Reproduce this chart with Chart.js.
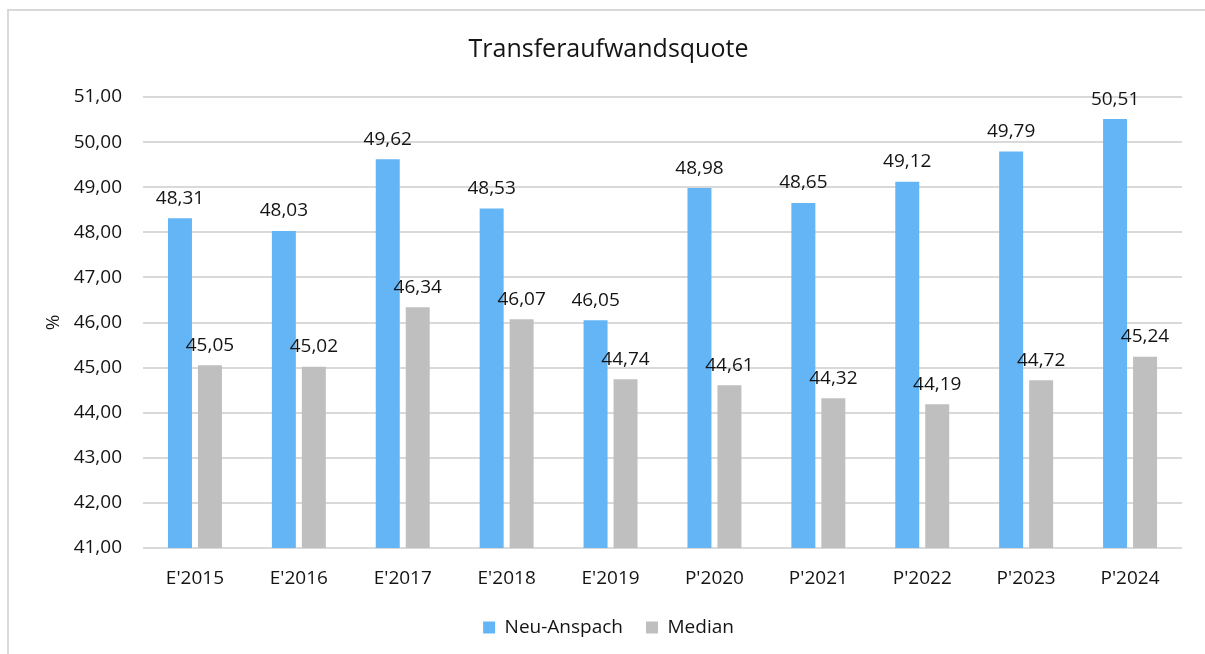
<!DOCTYPE html>
<html>
<head>
<meta charset="utf-8">
<script src="https://cdn.jsdelivr.net/npm/chart.js@4"></script>
<style>
  html, body { margin: 0; padding: 0; background: #fff; }
  body { width: 1205px; height: 654px; position: relative; overflow: hidden; }
  #frame { position: absolute; left: 7px; top: 9px; width: 1300px; height: 800px; border: 2px solid #D9D9D9; box-sizing: border-box; }
  #chart { position: absolute; left: 0; top: 0; }
</style>
</head>
<body>
<div id="frame"></div>
<canvas id="chart" width="1205" height="654"></canvas>
<script>
// Werte aus dem Diagramm
const categories = ["E'2015", "E'2016", "E'2017", "E'2018", "E'2019", "P'2020", "P'2021", "P'2022", "P'2023", "P'2024"];
const neuAnspach = [48.31, 48.03, 49.62, 48.53, 46.05, 48.98, 48.65, 49.12, 49.79, 50.51];
const median = [45.05, 45.02, 46.34, 46.07, 44.74, 44.61, 44.32, 44.19, 44.72, 45.24];
const yMin = 41, yMax = 51, yStep = 1;

const FONT = "'Open Sans', 'Noto Sans', sans-serif";
const TEXT = '#141414';

function fmt(v) {
    return v.toFixed(2).replace('.', ',');
}

// Datenbeschriftungen über den Balken
const valueLabels = {
    id: 'valueLabels',
    afterDatasetsDraw(chart) {
        const ctx = chart.ctx;
        ctx.save();
        ctx.font = '19px ' + FONT;
        ctx.fillStyle = TEXT;
        ctx.textAlign = 'center';
        ctx.textBaseline = 'middle';
        chart.data.datasets.forEach((ds, i) => {
            chart.getDatasetMeta(i).data.forEach((bar, j) => {
                ctx.fillText(fmt(ds.data[j]), bar.x, bar.y - 20);
            });
        });
        ctx.restore();
    }
};

const ctx = document.getElementById('chart').getContext('2d');
new Chart(ctx, {
    type: 'bar',
    data: {
        labels: categories,
        datasets: [
            {
                label: 'Neu-Anspach',
                data: neuAnspach,
                backgroundColor: '#64B5F6',
                categoryPercentage: 0.577,
                barPercentage: 0.8
            },
            {
                label: 'Median',
                data: median,
                backgroundColor: '#BFBFBF',
                categoryPercentage: 0.577,
                barPercentage: 0.8
            }
        ]
    },
    options: {
        responsive: false,
        animation: false,
        layout: {
            padding: { left: 35, right: 23, top: 0, bottom: 7 }
        },
        plugins: {
            title: {
                display: true,
                text: 'Transferaufwandsquote',
                color: TEXT,
                font: { family: FONT, size: 25, weight: 'normal' },
                padding: { top: 35, bottom: 32 }
            },
            legend: {
                position: 'bottom',
                labels: {
                    color: TEXT,
                    font: { family: FONT, size: 19 },
                    boxWidth: 12,
                    boxHeight: 12,
                    padding: 23
                }
            },
            tooltip: { enabled: false }
        },
        scales: {
            x: {
                grid: { display: false },
                border: { display: false },
                ticks: {
                    color: TEXT,
                    font: { family: FONT, size: 19 },
                    padding: 11,
                    maxRotation: 0
                },
                afterFit: (scale) => { scale.height = 47; }
            },
            y: {
                min: yMin,
                max: yMax,
                grid: { color: '#D9D9D9', lineWidth: 2, drawTicks: false },
                border: { display: false },
                ticks: {
                    stepSize: yStep,
                    color: TEXT,
                    font: { family: FONT, size: 19 },
                    padding: 21,
                    callback: (v) => fmt(v)
                },
                title: {
                    display: true,
                    text: '%',
                    color: TEXT,
                    font: { family: FONT, size: 19 },
                    padding: { top: 7, bottom: 0 }
                },
                afterFit: (scale) => { scale.width = 108; }
            }
        }
    },
    plugins: [valueLabels]
});
</script>
</body>
</html>
